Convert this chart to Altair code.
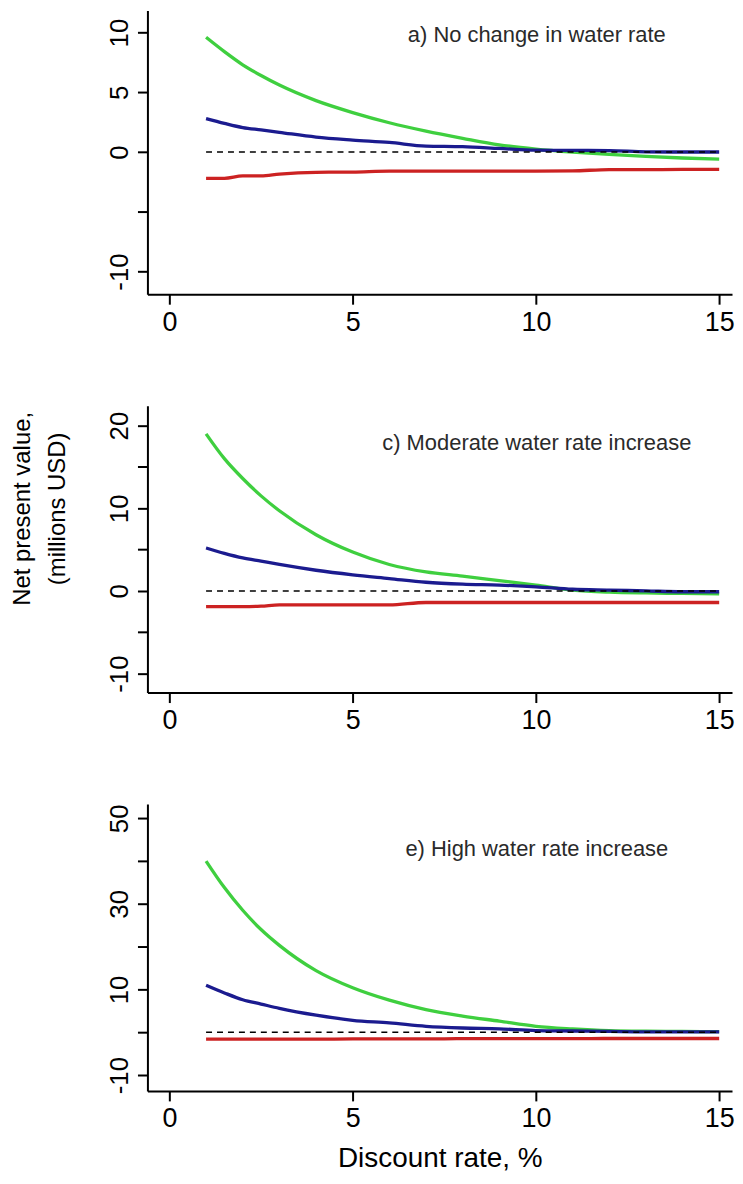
import altair as alt
import pandas as pd

# Discount rate (%) sampled along each curve
rate = [1, 1.5, 2, 2.5, 3, 4, 5, 6, 7, 8, 9, 10, 11, 12, 13, 14, 15]

# a) No change in water rate
a_green = [9.6, 8.4, 7.3, 6.4, 5.6, 4.3, 3.3, 2.45, 1.75, 1.15, 0.6, 0.25, 0.0, -0.2, -0.36, -0.5, -0.6]
a_blue = [2.8, 2.4, 2.05, 1.85, 1.65, 1.25, 1.0, 0.8, 0.5, 0.45, 0.3, 0.15, 0.14, 0.12, 0.02, 0.0, 0.0]
a_red = [-2.2, -2.2, -2.0, -2.0, -1.85, -1.7, -1.68, -1.6, -1.6, -1.6, -1.6, -1.6, -1.58, -1.47, -1.47, -1.46, -1.45]

# c) Moderate water rate increase
c_green = [19.0, 16.0, 13.6, 11.5, 9.7, 6.8, 4.7, 3.2, 2.3, 1.8, 1.25, 0.7, 0.1, -0.15, -0.25, -0.3, -0.35]
c_blue = [5.2, 4.55, 4.0, 3.6, 3.2, 2.5, 1.95, 1.5, 1.05, 0.82, 0.7, 0.5, 0.2, 0.1, 0.0, -0.1, -0.1]
c_red = [-1.9, -1.9, -1.9, -1.85, -1.7, -1.7, -1.7, -1.7, -1.4, -1.4, -1.4, -1.4, -1.4, -1.4, -1.4, -1.4, -1.4]

# e) High water rate increase
e_green = [40.0, 33.8, 28.5, 24.0, 20.3, 14.4, 10.4, 7.5, 5.3, 3.8, 2.6, 1.4, 0.8, 0.4, 0.25, 0.2, 0.15]
e_blue = [11.0, 9.2, 7.6, 6.6, 5.6, 4.0, 2.8, 2.2, 1.4, 1.0, 0.8, 0.4, 0.3, 0.2, 0.1, 0.1, 0.1]
e_red = [-1.6, -1.6, -1.6, -1.6, -1.6, -1.6, -1.55, -1.55, -1.55, -1.5, -1.5, -1.5, -1.5, -1.45, -1.45, -1.45, -1.45]

# zero reference (dashed)
ref_rate = [1, 15]
ref_npv = [0, 0]

x_ticks = [0, 5, 10, 15]
panel_labels = ["a) No change in water rate", "c) Moderate water rate increase", "e) High water rate increase"]
y_ticks_a = [-10, -5, 0, 5, 10]
y_shown_a = [-10, 0, 5, 10]
y_ticks_c = [-10, -5, 0, 5, 10, 15, 20]
y_shown_c = [-10, 0, 10, 20]
y_ticks_e = [-10, 0, 10, 20, 30, 40, 50]
y_shown_e = [-10, 10, 30, 50]

FONT = "Liberation Sans"
GREEN = "#3fcf3f"
BLUE = "#1b1b8f"
RED = "#cc2222"
PLOT_W = 587


def make_panel(label, green, blue, red, ydom, height, ticks, shown, label_y, ytitle=False, xtitle=False):
    xaxis_kw = dict(values=x_ticks, labelFontSize=27, labelPadding=5, labelFlush=False,
                    labelOverlap=False, labelBaseline="top", grid=False,
                    domainColor="black", domainWidth=2, tickColor="black", tickWidth=2,
                    tickSize=10, labelColor="black", labelFont=FONT)
    if xtitle:
        xaxis_kw.update(title="Discount rate, %", titleFontSize=28, titleY=54,
                        titleBaseline="top", titleFont=FONT, titleFontWeight="normal",
                        titleColor="black")
    else:
        xaxis_kw.update(title=None)
    shown_str = "[" + ",".join(str(v) for v in shown) + "]"
    yaxis_kw = dict(values=ticks,
                    labelExpr=f"indexof({shown_str}, datum.value) >= 0 ? toString(datum.value) : ''",
                    labelAngle=270, labelAlign="center", labelBaseline="bottom", labelFontSize=26,
                    labelPadding=5, labelFlush=False, labelOverlap=False, grid=False,
                    domainColor="black", domainWidth=2, tickColor="black", tickWidth=2,
                    tickSize=10, labelColor="black", labelFont=FONT)
    if ytitle:
        yaxis_kw.update(title=["Net present value,", "(millions USD)"], titleAngle=270,
                        titleAlign="center", titleBaseline="top", titleFontSize=24,
                        titleLineHeight=35, titleX=-137, titleY=103, titleFont=FONT,
                        titleFontWeight="normal", titleColor="black")
    else:
        yaxis_kw.update(title=None)

    X = alt.X("rate:Q", scale=alt.Scale(domain=[-0.6, 15.35], nice=False, zero=False),
              axis=alt.Axis(**xaxis_kw))
    Y = alt.Y("npv:Q", scale=alt.Scale(domain=ydom, nice=False, zero=False),
              axis=alt.Axis(**yaxis_kw))

    def series_layer(vals, color):
        df = pd.DataFrame({"rate": rate, "npv": vals})
        return alt.Chart(df).mark_line(color=color, strokeWidth=3.3, interpolate="monotone").encode(x=X, y=Y)

    ref = alt.Chart(pd.DataFrame({"rate": ref_rate, "npv": ref_npv})).mark_line(
        color="black", strokeWidth=1.5, strokeDash=[6, 5]).encode(x=X, y=Y)

    txt = alt.Chart(pd.DataFrame({"t": [label]})).mark_text(
        font=FONT, fontSize=22, color="#2a2a2a", align="center", baseline="middle"
    ).encode(x=alt.value(391), y=alt.value(label_y), text="t:N")

    return alt.layer(series_layer(green, GREEN), series_layer(blue, BLUE),
                     series_layer(red, RED), ref, txt).properties(width=PLOT_W, height=height)


p1 = make_panel(panel_labels[0], a_green, a_blue, a_red, [-11.9, 11.85], 285,
                y_ticks_a, y_shown_a, 25)
p2 = make_panel(panel_labels[1], c_green, c_blue, c_red, [-12.3, 22.4], 288,
                y_ticks_c, y_shown_c, 37, ytitle=True)
p3 = make_panel(panel_labels[2], e_green, e_blue, e_red, [-13.7, 53.3], 288,
                y_ticks_e, y_shown_e, 45, xtitle=True)

chart = alt.vconcat(p1, p2, p3, spacing=112, bounds="flush").properties(
    padding={"left": 3, "top": 0, "right": 0, "bottom": 0},
    background="white"
).configure_view(stroke=None).configure_axis(
    domainColor="black", domainWidth=2, tickColor="black", tickWidth=2, tickSize=10,
    labelFont=FONT, labelColor="black", titleColor="black", grid=False
)

chart.save("out.html", embed_options={"renderer": "svg", "actions": False})
